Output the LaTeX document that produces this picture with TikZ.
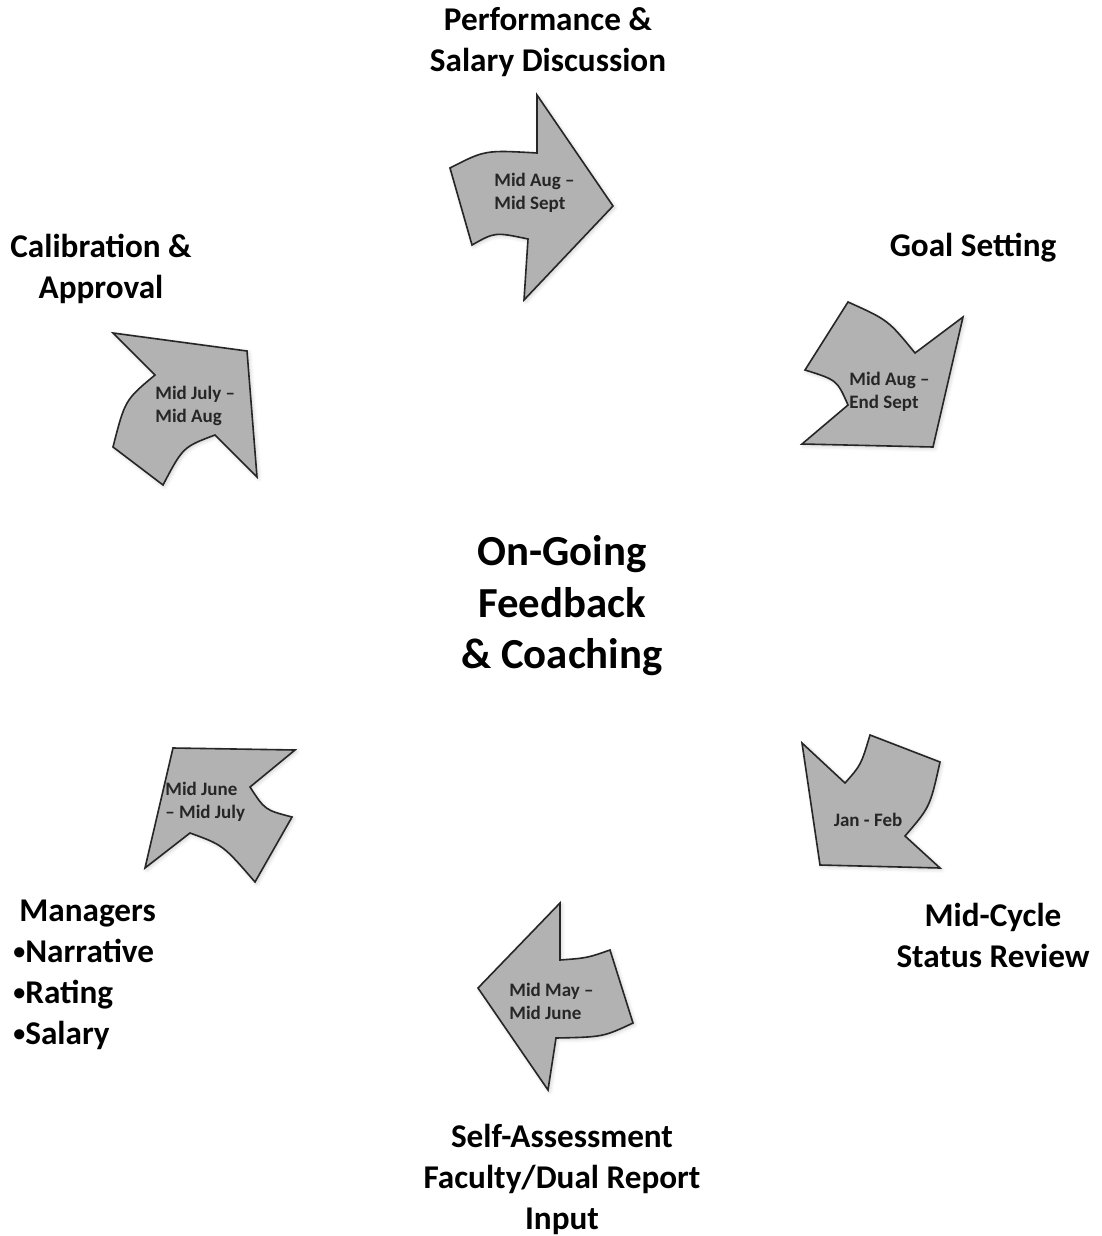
\documentclass[tikz,border=0pt]{standalone}
\usepackage{fontspec}
\setmainfont{Carlito}
\usepackage{tikz}
\usetikzlibrary{shadows.blur,positioning}

\newcommand{\listdot}{\raisebox{1.4pt}{\fontsize{12}{0}\selectfont•}}

\tikzset{
    phasearrow/.style={draw=black!85, line width=0.8pt, fill=gray!60, line join=miter,
        blur shadow={shadow xshift=0.8pt, shadow yshift=-0.8pt, shadow opacity=20, shadow blur steps=4}},
    datelabel/.style={font=\fontsize{9.5}{11.5}\selectfont\bfseries, align=left, inner sep=0pt, text=black!85},
    steplabel/.style={font=\fontsize{16.6}{20.5}\selectfont\bfseries, align=center, inner sep=0pt},
}

\begin{document}
\begin{tikzpicture}[x=0.5pt, y=-0.5pt]
    \useasboundingbox (0,0) rectangle (1102,1236);

    \node (centre) [font=\fontsize{21.4}{25.75}\selectfont\bfseries, align=center, inner sep=0pt] at (562,606) {On-Going\\Feedback\\\& Coaching};

    \draw [phasearrow] (450,168) .. controls (485,150) .. (537,153) -- (537,95) -- (613,206) -- (524,300)
        -- (528,239) .. controls (495,232) .. (472,245) -- cycle;
    \draw [phasearrow] (848,302) .. controls (888,320) .. (915,353) -- (963,317) -- (933,447) -- (802,444)
        -- (848,405) .. controls (837,380) .. (805,370) -- cycle;
    \draw [phasearrow] (113,333) -- (247,351) -- (257,477) -- (215,435) .. controls (183,447) .. (163,485)
        -- (113,447) .. controls (125,400) .. (155,375) -- cycle;
    \draw [phasearrow] (173,748) -- (295,750) -- (250,787) .. controls (265,810) .. (292,817) -- (255,882)
        .. controls (223,845) .. (190,833) -- (145,868) -- cycle;
    \draw [phasearrow] (802,743) -- (845,783) .. controls (861,765) .. (870,735) -- (940,762)
        .. controls (930,807) .. (905,836) -- (940,868) -- (820,865) -- cycle;
    \draw [phasearrow] (478,988) -- (560,903) -- (560,960) .. controls (587,958) .. (610,950) -- (633,1023)
        .. controls (603,1037) .. (556,1038) -- (548,1090) -- cycle;

    \node (augsept) [datelabel, anchor=west] at (494,193) {Mid Aug –\\Mid Sept};
    \node (augend) [datelabel, anchor=west] at (849,392) {Mid Aug –\\End Sept};
    \node (julyaug) [datelabel, anchor=west] at (155,406) {Mid July –\\Mid Aug};
    \node (junejuly) [datelabel, anchor=west] at (165,802) {Mid June\\– Mid July};
    \node (janfeb) [datelabel] at (868,820) {Jan - Feb};
    \node (mayjune) [datelabel, anchor=west] at (509,1001) {Mid May –\\Mid June};

    \node (perf) [steplabel] at (548,42) {Performance \&\\Salary Discussion};
    \node (goal) [steplabel] at (973,248) {Goal Setting};
    \node (calib) [steplabel] at (101,269) {Calibration \&\\Approval};
    \node (midcycle) [steplabel] at (993,935) {Mid-Cycle\\Status Review};
    \node (selfassess) [steplabel] at (562,1179) {Self-Assessment\\Faculty/Dual Report\\Input};
    \node (managers) [steplabel, align=left, anchor=west] at (13,975) {\hspace{3pt}Managers\\\listdot Narrative\\\listdot Rating\\\listdot Salary};
\end{tikzpicture}
\end{document}
